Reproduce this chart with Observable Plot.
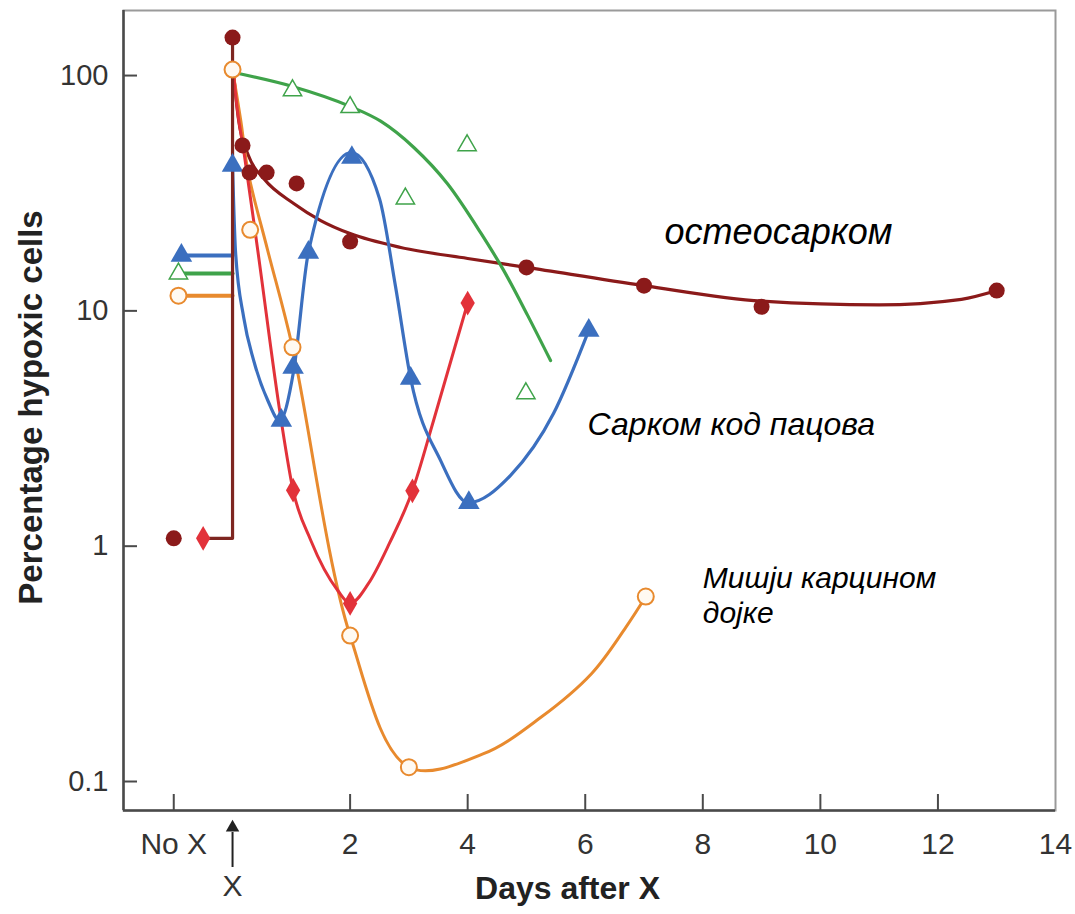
<!DOCTYPE html>
<html lang="en">
<head>
<meta charset="utf-8">
<script src="https://cdn.jsdelivr.net/npm/d3@7"></script>
<script src="https://cdn.jsdelivr.net/npm/@observablehq/plot@0.6"></script>
<style>
  html, body { margin: 0; padding: 0; background: #fff; }
  #chart svg { display: block; }
</style>
</head>
<body>
<div id="chart"></div>
<script>
// ---- Percentage of hypoxic cells before ("No X") and after a dose of X-rays ----

// Osteosarcoma: measured points (filled dark-red circles)
const osteoDays   = [-1, 0, 0.17, 0.29, 0.58, 1.09, 2, 5, 7, 9, 13];
const osteoValues = [1.08, 145, 50.5, 38.7, 38.7, 34.8, 19.7, 15.3, 12.8, 10.4, 12.2];
// Osteosarcoma: fitted curve
const osteoFitDays   = [0.02, 0.1, 0.27, 0.53, 1.04, 1.5, 2, 2.86, 4, 5, 7, 9, 11, 12.4, 13];
const osteoFitValues = [100, 65.7, 45.7, 36.5, 28.6, 24.2, 21.3, 18.6, 16.7, 15.3, 12.8, 11.0, 10.6, 11.2, 12.2];
// Jump from the unirradiated level to the post-irradiation level at X
const stepDays   = [-0.5, 0, 0];
const stepValues = [1.08, 1.08, 145];

// Second tumour (filled red diamonds)
const redDays   = [-0.5, 1.03, 2, 3.06, 4];
const redValues = [1.08, 1.73, 0.571, 1.72, 10.8];
const redFitDays   = [0.02, 0.085, 0.19, 0.43, 0.82, 1.03, 1.33, 1.79, 2, 2.31, 2.67, 3.06, 3.42, 4];
const redFitValues = [100, 70.7, 48, 18, 3.52, 1.73, 1.06, 0.648, 0.571, 0.693, 1.03, 1.72, 3.42, 10.8];

// Rat sarcoma (filled blue triangles)
const blueDays   = [-0.87, 0, 0.83, 1.03, 1.29, 2.03, 3.03, 4.02, 6.06];
const blueValues = [17.2, 41.5, 3.42, 5.74, 17.7, 44.8, 5.16, 1.53, 8.26];
const blueFitDays   = [0, 0.05, 0.19, 0.36, 0.6, 0.8, 1.04, 1.29, 2.02, 2.5, 2.77, 3.03, 3.54, 4.01, 4.73, 5.46, 6.06];
const blueFitValues = [41.5, 18, 9.37, 6.15, 4.16, 3.42, 5.57, 17.7, 47.1, 30.0, 12.8, 5.16, 2.31, 1.53, 2.0, 3.66, 8.26];

// Green series (open triangles)
const greenDays   = [-0.92, 1.02, 2, 2.94, 3.99, 4.99];
const greenValues = [14.4, 86.5, 73.3, 30.0, 50.5, 4.46];
const greenFitDays   = [0.02, 1.02, 2.01, 2.52, 3.08, 3.66, 4.22, 4.61, 5.02, 5.41];
const greenFitValues = [103, 89.9, 73.8, 64.0, 49.6, 34.6, 21.5, 14.9, 9.57, 6.15];

// Mouse mammary carcinoma (open orange circles)
const orangeDays   = [-0.92, 0, 0.3, 1.02, 2, 3, 7.03];
const orangeValues = [11.6, 106, 22.1, 7.0, 0.417, 0.115, 0.611];
const orangeFitDays   = [0, 0.14, 0.27, 0.6, 1.02, 2, 3, 4.26, 5.24, 6.11, 6.69, 7.03];
const orangeFitValues = [106, 64.4, 38.3, 18, 7.0, 0.417, 0.115, 0.131, 0.187, 0.288, 0.452, 0.611];

// Unirradiated ("No X") levels carried across to the time of irradiation
const baseDays        = [-0.92, 0];
const blueBaseValue   = 17.2;
const greenBaseValue  = 14.4;
const orangeBaseValue = 11.6;

// Axes
const xTickDays   = [-1, 2, 4, 6, 8, 10, 12];
const xLabelDays  = [-1, 2, 4, 6, 8, 10, 12, 14];
const noXLabel    = "No X";
const yTickValues = [0.1, 1, 10, 100];
const xDomain = [-1.855, 14];
const yDomain = [0.0753, 189];

// Series names written beside the curves
const labelTexts  = ["остеосарком", "Сарком код пацова", "Мишји карцином", "дојке"];
const labelDays   = [7.35, 6.04, 8.0, 8.0];
const labelValues = [21.5, 3.29, 0.729, 0.519];
const labelSizes  = [36, 32, 30, 30];

// ---- helpers ----
const pts = (xs, ys) => xs.map((x, i) => ({x, y: ys[i]}));

const C = {
  osteo: "#8b1a1a",
  step: "#7e2620",
  red: "#e2323a",
  blue: "#3b6fbf",
  green: "#3fa34a",
  orange: "#e88a2e"
};

const W = 1075, H = 914;
const mL = 123, mR = 20, mT = 10, mB = 104;
const plotW = W - mL - mR, plotH = H - mT - mB;
const smooth = "monotone-x";

const chart = Plot.plot({
  width: W,
  height: H,
  marginLeft: mL, marginRight: mR, marginTop: mT, marginBottom: mB,
  style: {fontFamily: "'Liberation Sans', Arial, Helvetica, sans-serif", background: "#fff", color: "#333", overflow: "visible"},
  x: {type: "linear", domain: xDomain},
  y: {type: "log", domain: yDomain},
  marks: [
    // box: light top/right, darker left/bottom
    Plot.frame({stroke: "#9a9a9a", strokeWidth: 2}),
    Plot.ruleX([xDomain[0]], {stroke: "#4a4a4a", strokeWidth: 2.5}),
    Plot.ruleY([yDomain[0]], {stroke: "#4a4a4a", strokeWidth: 2.5}),

    // inward ticks
    Plot.tickY(yTickValues, {y: d => d, insetRight: plotW - 14, stroke: "#4a4a4a", strokeWidth: 2}),
    Plot.tickX(xTickDays, {x: d => d, insetTop: plotH - 16, stroke: "#4a4a4a", strokeWidth: 2}),

    // tick labels
    Plot.axisY({anchor: "left", ticks: yTickValues, tickSize: 0, tickPadding: 15, fontSize: 29,
      tickFormat: d => String(d), label: null, fill: "#333"}),
    Plot.axisX({anchor: "bottom", ticks: xLabelDays, tickSize: 0, tickPadding: 22, fontSize: 30,
      tickFormat: d => d === -1 ? noXLabel : String(d), label: null, fill: "#333"}),

    // axis titles
    Plot.text(["Percentage hypoxic cells"], {frameAnchor: "left", rotate: -90, dx: -92, dy: -3,
      textAnchor: "middle", fontSize: 33, fontWeight: "bold", fill: "#222", lineAnchor: "middle"}),
    Plot.text(["Days after X"], {frameAnchor: "bottom", dx: -22, dy: 78,
      fontSize: 32, fontWeight: "bold", fill: "#222", lineAnchor: "middle"}),

    // arrow marking the time of irradiation
    Plot.ruleX([0], {insetTop: plotH + 22, insetBottom: -57, stroke: "#222", strokeWidth: 2}),
    Plot.dot([0], {x: d => d, frameAnchor: "bottom", dy: 17, symbol: "triangle", r: 5, fill: "#222"}),
    Plot.text(["X"], {x: () => 0, frameAnchor: "bottom", dy: 76, fontSize: 30, fill: "#333", lineAnchor: "middle"}),

    // fitted curves
    Plot.line(pts(osteoFitDays, osteoFitValues), {x: "x", y: "y", stroke: C.osteo, strokeWidth: 3.2, curve: smooth}),
    Plot.line(pts(orangeFitDays, orangeFitValues), {x: "x", y: "y", stroke: C.orange, strokeWidth: 3, curve: "catmull-rom"}),
    Plot.line(pts(redFitDays, redFitValues), {x: "x", y: "y", stroke: C.red, strokeWidth: 3, curve: smooth}),
    Plot.line(pts(blueFitDays, blueFitValues), {x: "x", y: "y", stroke: C.blue, strokeWidth: 3.2, curve: smooth}),
    Plot.line(pts(greenFitDays, greenFitValues), {x: "x", y: "y", stroke: C.green, strokeWidth: 3.2, curve: smooth}),

    // unirradiated levels
    Plot.line(pts(baseDays, [blueBaseValue, blueBaseValue]), {x: "x", y: "y", stroke: C.blue, strokeWidth: 4}),
    Plot.line(pts(baseDays, [greenBaseValue, greenBaseValue]), {x: "x", y: "y", stroke: C.green, strokeWidth: 4}),
    Plot.line(pts(baseDays, [orangeBaseValue, orangeBaseValue]), {x: "x", y: "y", stroke: C.orange, strokeWidth: 4}),
    Plot.line(pts(stepDays, stepValues), {x: "x", y: "y", stroke: C.step, strokeWidth: 3.2}),

    // measured points
    Plot.dot(pts(greenDays, greenValues), {x: "x", y: "y", symbol: "triangle", r: 6.8, fill: "#fff", stroke: C.green, strokeWidth: 1.5}),
    Plot.dot(pts(blueDays, blueValues), {x: "x", y: "y", symbol: "triangle", r: 8, fill: C.blue, stroke: "none"}),
    Plot.dot(pts(redDays, redValues), {x: "x", y: "y", symbol: "diamond", r: 7.5, fill: C.red, stroke: "none"}),
    Plot.dot(pts(osteoDays, osteoValues), {x: "x", y: "y", r: 8, fill: C.osteo, stroke: "none"}),
    Plot.dot(pts(orangeDays, orangeValues), {x: "x", y: "y", r: 8, fill: "#fffaf2", stroke: C.orange, strokeWidth: 2}),

    // series names
    Plot.text(labelTexts.map((t, i) => ({t, x: labelDays[i], y: labelValues[i], s: labelSizes[i]})), {
      x: "x", y: "y", text: "t", fontSize: d => d.s, textAnchor: "start", lineAnchor: "middle",
      fontStyle: "italic", fill: "#000", letterSpacing: 0.6
    })
  ]
});

document.getElementById("chart").appendChild(chart);
</script>
</body>
</html>
